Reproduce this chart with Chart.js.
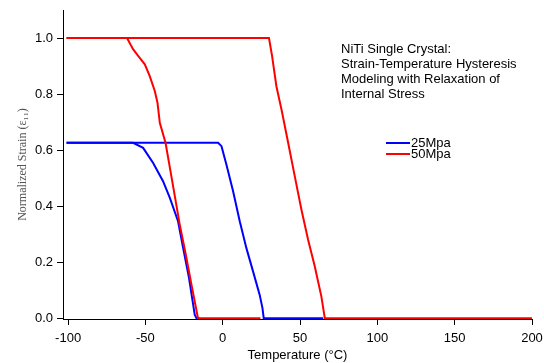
<!DOCTYPE html>
<html>
<head>
<meta charset="utf-8">
<script src="https://cdn.jsdelivr.net/npm/chart.js@4.4.0/dist/chart.umd.min.js"></script>
<style>
  html, body { margin: 0; padding: 0; background: #fff; }
</style>
</head>
<body>
<canvas id="grafico" width="544" height="363"></canvas>
<script>
  // 50 MPa - aquecimento
  const temp50Aquec = [-101, 29.9, 31.9, 34.7, 38.0, 42.3, 46.6, 50.9, 55.2, 59.5, 63.8, 66.0, 200];
  const strain50Aquec = [1, 1, 0.936, 0.828, 0.745, 0.626, 0.506, 0.387, 0.28, 0.185, 0.077, 0, 0];

  // 50 MPa - resfriamento
  const temp50Resf = [24.4, -16.0, -20.2, -24.0, -27.8, -33.2, -37.0, -40.7, -42.2, -43.9, -47.2, -50.4, -54.7, -58, -61.9, -101];
  const strain50Resf = [0, 0, 0.119, 0.23, 0.334, 0.506, 0.626, 0.697, 0.769, 0.81, 0.864, 0.906, 0.936, 0.96, 1, 1];

  // 25 MPa - aquecimento
  const temp25Aquec = [-101, -3.0, -0.8, 2.4, 6.7, 11.0, 15.3, 19.6, 23.9, 25.7, 26.5, 65];
  const strain25Aquec = [0.626, 0.626, 0.614, 0.548, 0.453, 0.346, 0.25, 0.167, 0.083, 0.036, 0, 0];

  // 25 MPa - resfriamento
  const temp25Resf = [-15, -17.0, -18.1, -21.8, -25.6, -28.9, -34.2, -38.6, -45.0, -51.5, -58, -101];
  const strain25Resf = [0, 0, 0.012, 0.143, 0.25, 0.346, 0.429, 0.489, 0.554, 0.608, 0.626, 0.626];

  const xTicks = [-100, -50, 0, 50, 100, 150, 200];
  const yTicks = [0, 0.2, 0.4, 0.6, 0.8, 1.0];

  const series = ['25Mpa', '50Mpa'];
  const cores = ['rgb(0,0,255)', 'rgb(255,0,0)'];

  const tituloLinhas = [
    'NiTi Single Crystal:',
    'Strain-Temperature Hysteresis',
    'Modeling with Relaxation of',
    'Internal Stress'
  ];

  function pontos(xs, ys) {
    return xs.map((x, i) => ({ x: x, y: ys[i] }));
  }

  function linha(label, dados, cor) {
    return {
      label: label,
      data: dados,
      borderColor: cor,
      backgroundColor: cor,
      borderWidth: 2,
      pointRadius: 0,
      tension: 0,
      fill: false
    };
  }

  // titulo e legenda desenhados dentro da area do grafico
  const anotacoes = {
    id: 'anotacoes',
    afterDraw(chart) {
      const ctx = chart.ctx;
      ctx.save();
      ctx.font = '13px "Liberation Sans", Arial, sans-serif';
      ctx.fillStyle = '#000';
      ctx.textAlign = 'left';
      ctx.textBaseline = 'alphabetic';
      tituloLinhas.forEach((t, i) => ctx.fillText(t, 341, 53 + i * 15));

      ctx.textBaseline = 'middle';
      series.forEach((nome, i) => {
        const y = 143 + i * 11;
        ctx.strokeStyle = cores[i];
        ctx.lineWidth = 2;
        ctx.beginPath();
        ctx.moveTo(386, y);
        ctx.lineTo(410, y);
        ctx.stroke();
        ctx.fillText(nome, 411, y);
      });
      ctx.restore();
    }
  };

  const fonteEixo = { family: '"Liberation Sans", Arial, sans-serif', size: 13 };

  new Chart(document.getElementById('grafico'), {
    type: 'line',
    data: {
      datasets: [
        linha(series[1], pontos(temp50Aquec, strain50Aquec), cores[1]),
        linha(series[1], pontos(temp50Resf, strain50Resf), cores[1]),
        linha(series[0], pontos(temp25Aquec, strain25Aquec), cores[0]),
        linha(series[0], pontos(temp25Resf, strain25Resf), cores[0])
      ]
    },
    options: {
      responsive: false,
      animation: false,
      layout: { padding: { top: 10, right: 12, left: 0, bottom: 0 } },
      plugins: {
        legend: { display: false },
        tooltip: { enabled: false }
      },
      scales: {
        x: {
          type: 'linear',
          min: -103.3,
          max: 200,
          afterBuildTicks: s => { s.ticks = xTicks.map(v => ({ value: v })); },
          afterFit: s => { s.height = 44; s.paddingLeft = 0; s.paddingRight = 0; },
          ticks: { color: '#000', font: fonteEixo, padding: 6, maxRotation: 0 },
          grid: { drawOnChartArea: false, drawTicks: true, tickLength: 6, color: '#000' },
          border: { color: '#000', width: 1 },
          title: {
            display: true,
            text: 'Temperature (°C)',
            color: '#000',
            font: fonteEixo,
            padding: { top: 0, bottom: 0 }
          }
        },
        y: {
          min: -0.003,
          max: 1.1,
          afterBuildTicks: s => { s.ticks = yTicks.map(v => ({ value: v })); },
          afterFit: s => { s.width = 63; s.paddingTop = 0; s.paddingBottom = 0; },
          ticks: { color: '#000', font: fonteEixo, padding: 4, callback: v => v.toFixed(1) },
          grid: { drawOnChartArea: false, drawTicks: true, tickLength: 6, color: '#000' },
          border: { color: '#000', width: 1 },
          title: {
            display: true,
            text: 'Normalized Strain (ε₁₁)',
            color: '#555',
            font: { family: '"Liberation Serif", "Times New Roman", serif', size: 12 },
            padding: { top: 16, bottom: 0 }
          }
        }
      }
    },
    plugins: [anotacoes]
  });
</script>
</body>
</html>
